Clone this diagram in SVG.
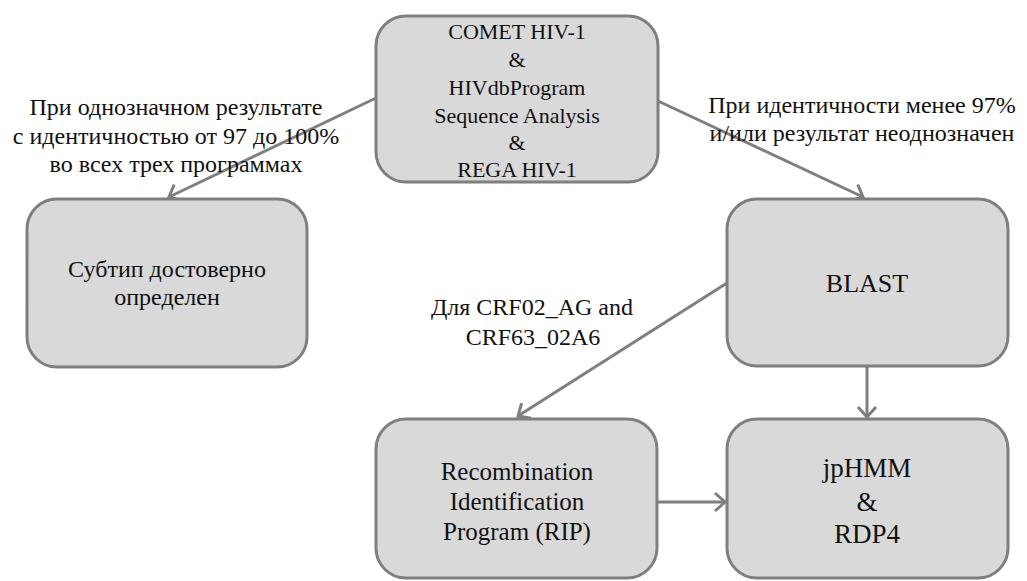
<svg xmlns="http://www.w3.org/2000/svg" width="1027" height="581" viewBox="0 0 1027 581">
<style>
.box{fill:#d9d9d9;stroke:#7f7f7f;stroke-width:3}
.t{font-family:'Liberation Serif',serif;fill:#111;text-anchor:middle}
.c{fill:none;stroke:#7f7f7f;stroke-width:3}
</style>
<defs>
<marker id="arr" markerUnits="userSpaceOnUse" markerWidth="24" markerHeight="24" refX="12" refY="12" orient="auto" viewBox="0 0 24 24">
<path d="M2,3 L12,12 L2,21" fill="none" stroke="#7f7f7f" stroke-width="3"/>
</marker>
</defs>
<rect width="1027" height="581" fill="#fff"/>
<g id="connectors">
<line class="c" x1="376" y1="98" x2="169" y2="197" marker-end="url(#arr)"/>
<line class="c" x1="658" y1="101" x2="863" y2="197" marker-end="url(#arr)"/>
<line class="c" x1="727" y1="283" x2="518" y2="416" marker-end="url(#arr)"/>
<line class="c" x1="867" y1="366" x2="867" y2="417" marker-end="url(#arr)"/>
<line class="c" x1="657" y1="502" x2="725" y2="502" marker-end="url(#arr)"/>
</g>
<g id="labels">
<text class="t" font-size="24" font-family="Liberation Serif, serif"><tspan x="176" y="115">При однозначном результате</tspan><tspan x="176" y="144">с идентичностью от 97 до 100%</tspan><tspan x="176" y="172">во всех трех программах</tspan></text>
<text class="t" font-size="24"><tspan x="862" y="113">При идентичности менее 97%</tspan><tspan x="862" y="141">и/или результат неоднозначен</tspan></text>
<text class="t" font-size="24"><tspan x="532" y="315">Для CRF02_AG and</tspan><tspan x="533" y="345">CRF63_02A6</tspan></text>
</g>
<g id="node-programs">
<rect class="box" x="376" y="16" width="282" height="166" rx="30"/>
<text class="t" font-size="22"><tspan x="517" y="39">COMET HIV-1</tspan><tspan x="517" y="67">&amp;</tspan><tspan x="517" y="95">HIVdbProgram</tspan><tspan x="517" y="123">Sequence Analysis</tspan><tspan x="517" y="150">&amp;</tspan><tspan x="517" y="177">REGA HIV-1</tspan></text>
</g>
<g id="node-subtype">
<rect class="box" x="27" y="199" width="280" height="168" rx="30"/>
<text class="t" font-size="24"><tspan x="167" y="277">Субтип достоверно</tspan><tspan x="167" y="305">определен</tspan></text>
</g>
<g id="node-blast">
<rect class="box" x="727" y="199" width="281" height="167" rx="30"/>
<text class="t" font-size="26" x="867" y="292">BLAST</text>
</g>
<g id="node-rip">
<rect class="box" x="376" y="419" width="281" height="159" rx="30"/>
<text class="t" font-size="25"><tspan x="517" y="480">Recombination</tspan><tspan x="517" y="510">Identification</tspan><tspan x="517" y="540">Program (RIP)</tspan></text>
</g>
<g id="node-jphmm">
<rect class="box" x="727" y="419" width="281" height="159" rx="30"/>
<text class="t" font-size="27"><tspan x="867" y="477">jpHMM</tspan><tspan x="867" y="511">&amp;</tspan><tspan x="867" y="543">RDP4</tspan></text>
</g>
</svg>
